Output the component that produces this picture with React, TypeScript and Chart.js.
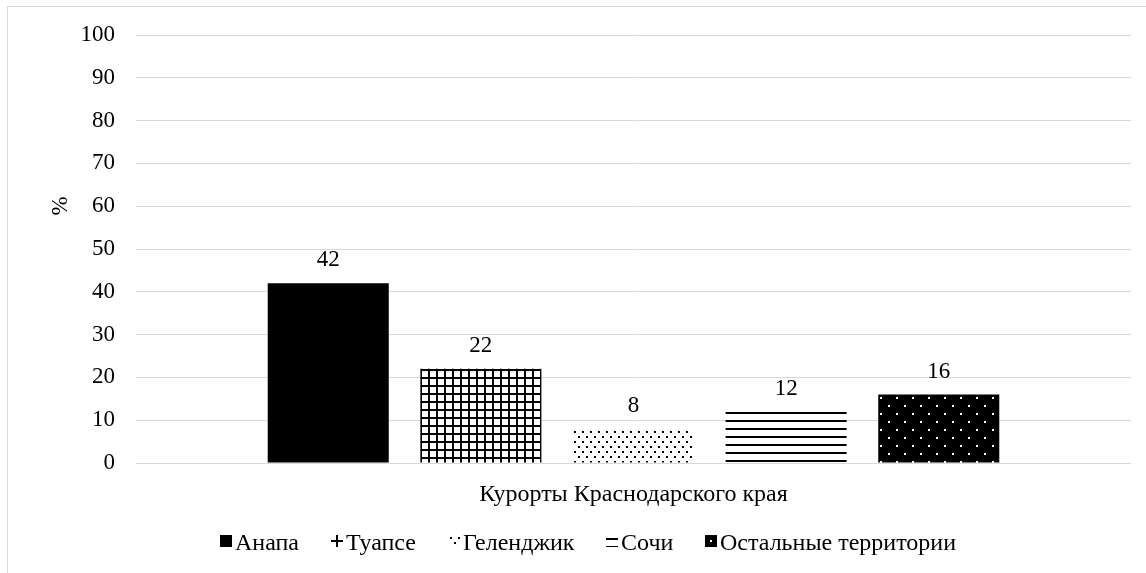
import React, { useEffect, useRef } from "react";
import { Chart, registerables } from "chart.js";

Chart.register(...registerables);

const categories = ["Курорты Краснодарского края"];
const seriesNames = ["Анапа", "Туапсе", "Геленджик", "Сочи", "Остальные территории"];
const seriesValues = [42, 22, 8, 12, 16];
const yTicks = [0, 10, 20, 30, 40, 50, 60, 70, 80, 90, 100];
const yTitle = "%";

const FONT = "'Liberation Serif', 'Times New Roman', serif";
const NUM_SIZE = 23;
const TEXT_SIZE = 24;

type Fill = CanvasPattern | string;

function makePattern(
  w: number,
  h: number,
  bg: string,
  draw: (ctx: CanvasRenderingContext2D) => void
): Fill {
  const c = document.createElement("canvas");
  c.width = w;
  c.height = h;
  const ctx = c.getContext("2d");
  if (!ctx) return bg;
  ctx.fillStyle = bg;
  ctx.fillRect(0, 0, w, h);
  draw(ctx);
  const p = ctx.createPattern(c, "repeat");
  return p || bg;
}

function buildFills(): Fill[] {
  const solid = "#000000";
  // lattice of thick black lines
  const grid = makePattern(8, 8, "#ffffff", (ctx) => {
    ctx.fillStyle = "#000000";
    ctx.fillRect(0, 0, 8, 2);
    ctx.fillRect(0, 0, 2, 8);
  });
  // small staggered dots on white
  const dots = makePattern(8, 10, "#ffffff", (ctx) => {
    ctx.fillStyle = "#000000";
    ctx.fillRect(1, 2, 2, 2);
    ctx.fillRect(5, 7, 2, 2);
  });
  // horizontal stripes
  const stripes = makePattern(8, 8, "#ffffff", (ctx) => {
    ctx.fillStyle = "#000000";
    ctx.fillRect(0, 0, 8, 2);
  });
  // white dots on black
  const invDots = makePattern(16, 16, "#000000", (ctx) => {
    ctx.fillStyle = "#ffffff";
    ctx.fillRect(2, 2, 2, 2);
    ctx.fillRect(10, 10, 2, 2);
  });
  return [solid, grid, dots, stripes, invDots];
}

function shiftPattern(fill: Fill, dx: number, dy: number) {
  if (typeof fill !== "string" && typeof (fill as any).setTransform === "function") {
    fill.setTransform(new DOMMatrix().translate(dx, dy));
  }
}

// anchor each bar's pattern to the bar's top-left corner
const alignPatterns = {
  id: "alignPatterns",
  beforeDatasetsDraw(chart: any) {
    chart.data.datasets.forEach((ds: any, i: number) => {
      const bar = chart.getDatasetMeta(i).data[0];
      if (!bar) return;
      shiftPattern(ds.backgroundColor, Math.round(bar.x - bar.width / 2), Math.round(bar.y));
    });
  },
};

const valueLabels = {
  id: "valueLabels",
  afterDatasetsDraw(chart: any) {
    const ctx = chart.ctx;
    ctx.save();
    ctx.font = `${NUM_SIZE}px ${FONT}`;
    ctx.fillStyle = "#000000";
    ctx.textAlign = "center";
    ctx.textBaseline = "middle";
    chart.data.datasets.forEach((ds: any, i: number) => {
      const meta = chart.getDatasetMeta(i);
      meta.data.forEach((bar: any, j: number) => {
        ctx.fillText(String(ds.data[j]), bar.x, bar.y - 23);
      });
    });
    ctx.restore();
  },
};

// pattern offsets inside the small legend markers
const markerOffsets: [number, number][] = [
  [0, 0],
  [5, 5],
  [1, 0],
  [0, 3],
  [3, 3],
];

// legend row: marker box, narrow gap, label; centred under the chart
function makeLegendPlugin(markerFills: Fill[]) {
  return {
    id: "bottomLegend",
    afterDraw(chart: any) {
      const ctx = chart.ctx;
      const box = 12;
      const textGap = 3;
      const itemGap = 32;
      const centerX = 580.5;
      const boxTop = 528;
      const baseline = 542.5;
      ctx.save();
      ctx.font = `${TEXT_SIZE}px ${FONT}`;
      const widths = seriesNames.map((n) => ctx.measureText(n).width);
      const total =
        widths.reduce((a, w) => a + box + textGap + w, 0) + itemGap * (seriesNames.length - 1);
      let x = Math.round(centerX - total / 2);
      seriesNames.forEach((name, i) => {
        const fill = markerFills[i];
        shiftPattern(fill, x + markerOffsets[i][0], boxTop + markerOffsets[i][1]);
        ctx.fillStyle = fill as any;
        ctx.fillRect(x, boxTop, box, box);
        ctx.fillStyle = "#000000";
        ctx.textAlign = "left";
        ctx.textBaseline = "alphabetic";
        ctx.fillText(name, x + box + textGap, baseline);
        x = Math.round(x + box + textGap + widths[i] + itemGap);
      });
      ctx.restore();
    },
  };
}

export default function App() {
  const canvasRef = useRef<HTMLCanvasElement | null>(null);

  useEffect(() => {
    const canvas = canvasRef.current;
    if (!canvas) return;
    const fills = buildFills();
    const markerFills = buildFills();
    const chart = new Chart(canvas, {
      type: "bar",
      data: {
        labels: categories,
        datasets: seriesNames.map((name, i) => ({
          label: name,
          data: [seriesValues[i]],
          backgroundColor: fills[i] as any,
          borderWidth: 0,
          categoryPercentage: 0.767,
          barPercentage: 0.793,
        })),
      },
      options: {
        responsive: false,
        animation: false,
        devicePixelRatio: 1,
        layout: { padding: { top: 28, right: 15, left: 0, bottom: 48 } },
        scales: {
          x: {
            grid: { display: false, drawTicks: false },
            border: { display: false },
            ticks: {
              color: "#000000",
              font: { family: FONT, size: TEXT_SIZE },
              padding: 17.5,
            },
            afterFit: (s: any) => {
              s.height = 62;
            },
          },
          y: {
            min: 0,
            max: 100,
            afterBuildTicks: (s: any) => {
              s.ticks = yTicks.map((v) => ({ value: v }));
            },
            grid: { color: "#d9d9d9", lineWidth: 1, drawTicks: false },
            border: { display: false },
            ticks: {
              color: "#000000",
              font: { family: FONT, size: NUM_SIZE },
              padding: 21,
            },
            title: {
              display: true,
              text: " ".repeat(15) + yTitle,
              color: "#000000",
              font: { family: FONT, size: NUM_SIZE },
              padding: { top: 39, bottom: 0 },
            },
            afterFit: (s: any) => {
              s.width = 128;
              s.paddingTop = 0;
              s.paddingBottom = 0;
            },
          },
        },
        plugins: {
          legend: { display: false },
          tooltip: { enabled: false },
        },
      },
      plugins: [alignPatterns, valueLabels, makeLegendPlugin(markerFills)],
    });
    return () => chart.destroy();
  }, []);

  return (
    <div
      style={{
        position: "fixed",
        left: 7,
        top: 6,
        width: 1139,
        height: 567,
        borderLeft: "1px solid #d9d9d9",
        borderTop: "1px solid #d9d9d9",
        background: "#ffffff",
      }}
    >
      <canvas ref={canvasRef} width={1138} height={566} style={{ display: "block" }} />
    </div>
  );
}
